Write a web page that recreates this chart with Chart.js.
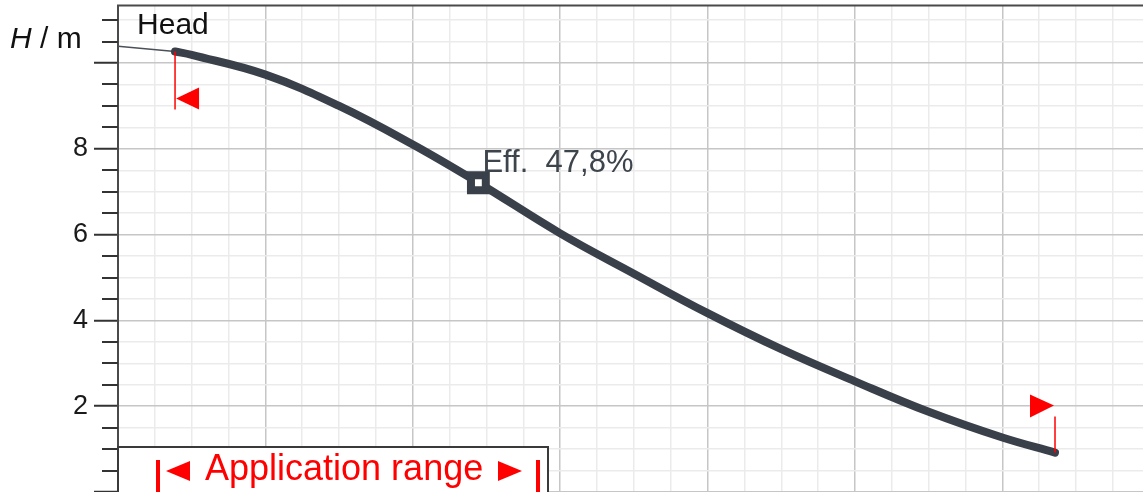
<!DOCTYPE html>
<html>
<head>
<meta charset="utf-8">
<script src="https://cdn.jsdelivr.net/npm/chart.js@4/dist/chart.umd.min.js"></script>
<style>
  html, body { margin: 0; padding: 0; background: #ffffff; overflow: hidden; }
  #wrap { position: relative; width: 1143px; height: 492px; }
</style>
</head>
<body>
<div id="wrap"><canvas id="c"></canvas></div>
<script>
// ---- data ----
// pump curve (flow in grid units, head H in m) inside the application range
const qCurve = [0.387, 0.5, 1.0, 1.5, 2.0, 2.445, 3.0, 3.5, 4.0, 4.5, 5.0, 5.5, 6.0, 6.357];
const hCurve = [10.27, 10.19, 9.73, 9.0, 8.10, 7.21, 6.03, 5.09, 4.17, 3.33, 2.58, 1.87, 1.27, 0.92];
// thin extension of the curve left of the application range
const qExt = [0, 0.387];
const hExt = [10.39, 10.27];
// best efficiency point
const qEff = [2.445];
const hEff = [7.21];
const effLabel = "Eff.  47,8%";
// application range limits
const appStart = 0.387;
const appEnd = 6.357;
// y axis labelled ticks
const yTickLabels = [2, 4, 6, 8];
const yAxisTitle = ["H", " / m"];
const curveTitle = "Head";
const rangeText = "Application range";

const FONT = '"Liberation Sans", Arial, sans-serif';
const CURVE = '#394049';
const RED = '#ff0000';

const toXY = (xs, ys) => xs.map((x, i) => ({ x: x, y: ys[i] }));

const decor = {
  id: 'decor',
  afterDraw(chart) {
    const ctx = chart.ctx;
    const ca = chart.chartArea;
    const xs = chart.scales.x, ys = chart.scales.y;
    ctx.save();

    // top frame line
    ctx.strokeStyle = '#4a4a4a';
    ctx.lineWidth = 2;
    ctx.beginPath();
    ctx.moveTo(ca.left - 1, ca.top - 0.5);
    ctx.lineTo(ca.right, ca.top - 0.5);
    ctx.stroke();

    // minor y tick marks (shorter)
    ctx.strokeStyle = '#333333';
    ctx.lineWidth = 2;
    for (let v = 0.5; v < ys.max; v += 0.5) {
      if (Math.abs(v / 2 - Math.round(v / 2)) < 1e-6) continue;
      const py = Math.round(ys.getPixelForValue(v));
      ctx.beginPath();
      ctx.moveTo(ca.left - 16, py);
      ctx.lineTo(ca.left, py);
      ctx.stroke();
    }

    // axis title H / m
    ctx.fillStyle = '#111111';
    ctx.textBaseline = 'alphabetic';
    ctx.textAlign = 'left';
    ctx.font = 'italic 30px ' + FONT;
    ctx.fillText(yAxisTitle[0], 10, 48);
    const wH = ctx.measureText(yAxisTitle[0]).width;
    ctx.font = '30px ' + FONT;
    ctx.fillText(yAxisTitle[1], 10 + wH, 48);

    // curve title
    const sx = xs.getPixelForValue(appStart);
    const sy = ys.getPixelForValue(hCurve[0]);
    ctx.fillStyle = '#111111';
    ctx.font = '30px ' + FONT;
    ctx.fillText(curveTitle, sx - 38, sy - 17);

    // efficiency label
    const exf = xs.getPixelForValue(qEff[0]);
    const eyf = ys.getPixelForValue(hEff[0]);
    ctx.fillStyle = '#3d444c';
    ctx.font = '31px ' + FONT;
    ctx.fillText(effLabel, exf + 4, eyf - 11);

    // application range start marker
    ctx.strokeStyle = RED;
    ctx.fillStyle = RED;
    ctx.lineWidth = 1.5;
    ctx.beginPath();
    ctx.moveTo(sx, sy);
    ctx.lineTo(sx, sy + 58);
    ctx.stroke();
    ctx.beginPath();
    ctx.moveTo(sx + 1, sy + 47);
    ctx.lineTo(sx + 24, sy + 36);
    ctx.lineTo(sx + 24, sy + 58);
    ctx.closePath();
    ctx.fill();

    // application range end marker
    const ex = xs.getPixelForValue(appEnd);
    const ey = ys.getPixelForValue(hCurve[hCurve.length - 1]);
    ctx.beginPath();
    ctx.moveTo(ex, ey);
    ctx.lineTo(ex, ey - 36);
    ctx.stroke();
    ctx.beginPath();
    ctx.moveTo(ex - 1, ey - 47);
    ctx.lineTo(ex - 25, ey - 58);
    ctx.lineTo(ex - 25, ey - 35);
    ctx.closePath();
    ctx.fill();

    // application range legend box
    const bx = ca.left, by = 447, bw = 430, bh = 60;
    ctx.fillStyle = '#ffffff';
    ctx.fillRect(bx, by, bw, bh);
    ctx.strokeStyle = '#3a3a3a';
    ctx.lineWidth = 2;
    ctx.strokeRect(bx, by, bw, bh);

    ctx.fillStyle = RED;
    ctx.strokeStyle = RED;
    ctx.lineWidth = 4;
    // left bar + arrow
    ctx.beginPath(); ctx.moveTo(158, 460); ctx.lineTo(158, 500); ctx.stroke();
    ctx.beginPath();
    ctx.moveTo(166, 471); ctx.lineTo(190, 461); ctx.lineTo(190, 481); ctx.closePath(); ctx.fill();
    // right arrow + bar
    ctx.beginPath();
    ctx.moveTo(522, 471); ctx.lineTo(498, 461); ctx.lineTo(498, 481); ctx.closePath(); ctx.fill();
    ctx.beginPath(); ctx.moveTo(538, 460); ctx.lineTo(538, 500); ctx.stroke();
    ctx.font = '36px ' + FONT;
    ctx.fillText(rangeText, 205, 480);

    ctx.restore();
  }
};

const isMajorY = v => Math.abs(v / 2 - Math.round(v / 2)) < 1e-6;
const isMajorX = v => Math.abs(v - Math.round(v)) < 1e-6;

new Chart(document.getElementById('c'), {
  type: 'line',
  data: {
    datasets: [
      {
        data: toXY(qEff, hEff),
        showLine: false,
        pointStyle: 'rect',
        pointRadius: 10.5,
        pointHoverRadius: 10.5,
        pointBorderWidth: 8,
        pointBorderColor: CURVE,
        pointBackgroundColor: '#ffffff',
        clip: false,
        order: 0
      },
      {
        data: toXY(qCurve, hCurve),
        borderColor: CURVE,
        borderWidth: 8,
        borderCapStyle: 'round',
        borderJoinStyle: 'round',
        tension: 0.4,
        pointRadius: 0,
        order: 1
      },
      {
        data: toXY(qExt, hExt),
        borderColor: '#4a5058',
        borderWidth: 1.5,
        pointRadius: 0,
        order: 2
      }
    ]
  },
  options: {
    responsive: true,
    maintainAspectRatio: false,
    animation: false,
    layout: { autoPadding: false, padding: { top: 6, right: 0, bottom: 0, left: 0 } },
    plugins: { legend: { display: false }, tooltip: { enabled: false } },
    scales: {
      x: {
        type: 'linear',
        min: 0,
        max: 6.954,
        ticks: { display: false, stepSize: 0.25, includeBounds: false },
        border: { display: false },
        grid: {
          drawTicks: false,
          color: c => isMajorX(c.tick.value) ? '#c6c6c6' : '#ebebeb',
          lineWidth: 1.5
        },
        afterFit: s => { s.height = 0; s.paddingLeft = 0; s.paddingRight = 0; }
      },
      y: {
        type: 'linear',
        min: 0,
        max: 11.33,
        ticks: {
          stepSize: 0.5,
          includeBounds: false,
          padding: 6,
          color: '#1a1a1a',
          font: { family: FONT, size: 27, lineHeight: 0.05 },
          callback: v => yTickLabels.includes(v) ? String(v) : ''
        },
        border: { display: true, color: '#4a4a4a', width: 2 },
        grid: {
          drawTicks: true,
          tickLength: 24,
          tickWidth: 2,
          tickColor: c => isMajorY(c.tick.value) ? '#333333' : 'rgba(0,0,0,0)',
          color: c => isMajorY(c.tick.value) ? '#c6c6c6' : '#ebebeb',
          lineWidth: 1.5
        },
        afterFit: s => { s.width = 118; s.paddingTop = 0; s.paddingBottom = 0; }
      }
    }
  },
  plugins: [decor]
});
</script>
</body>
</html>
